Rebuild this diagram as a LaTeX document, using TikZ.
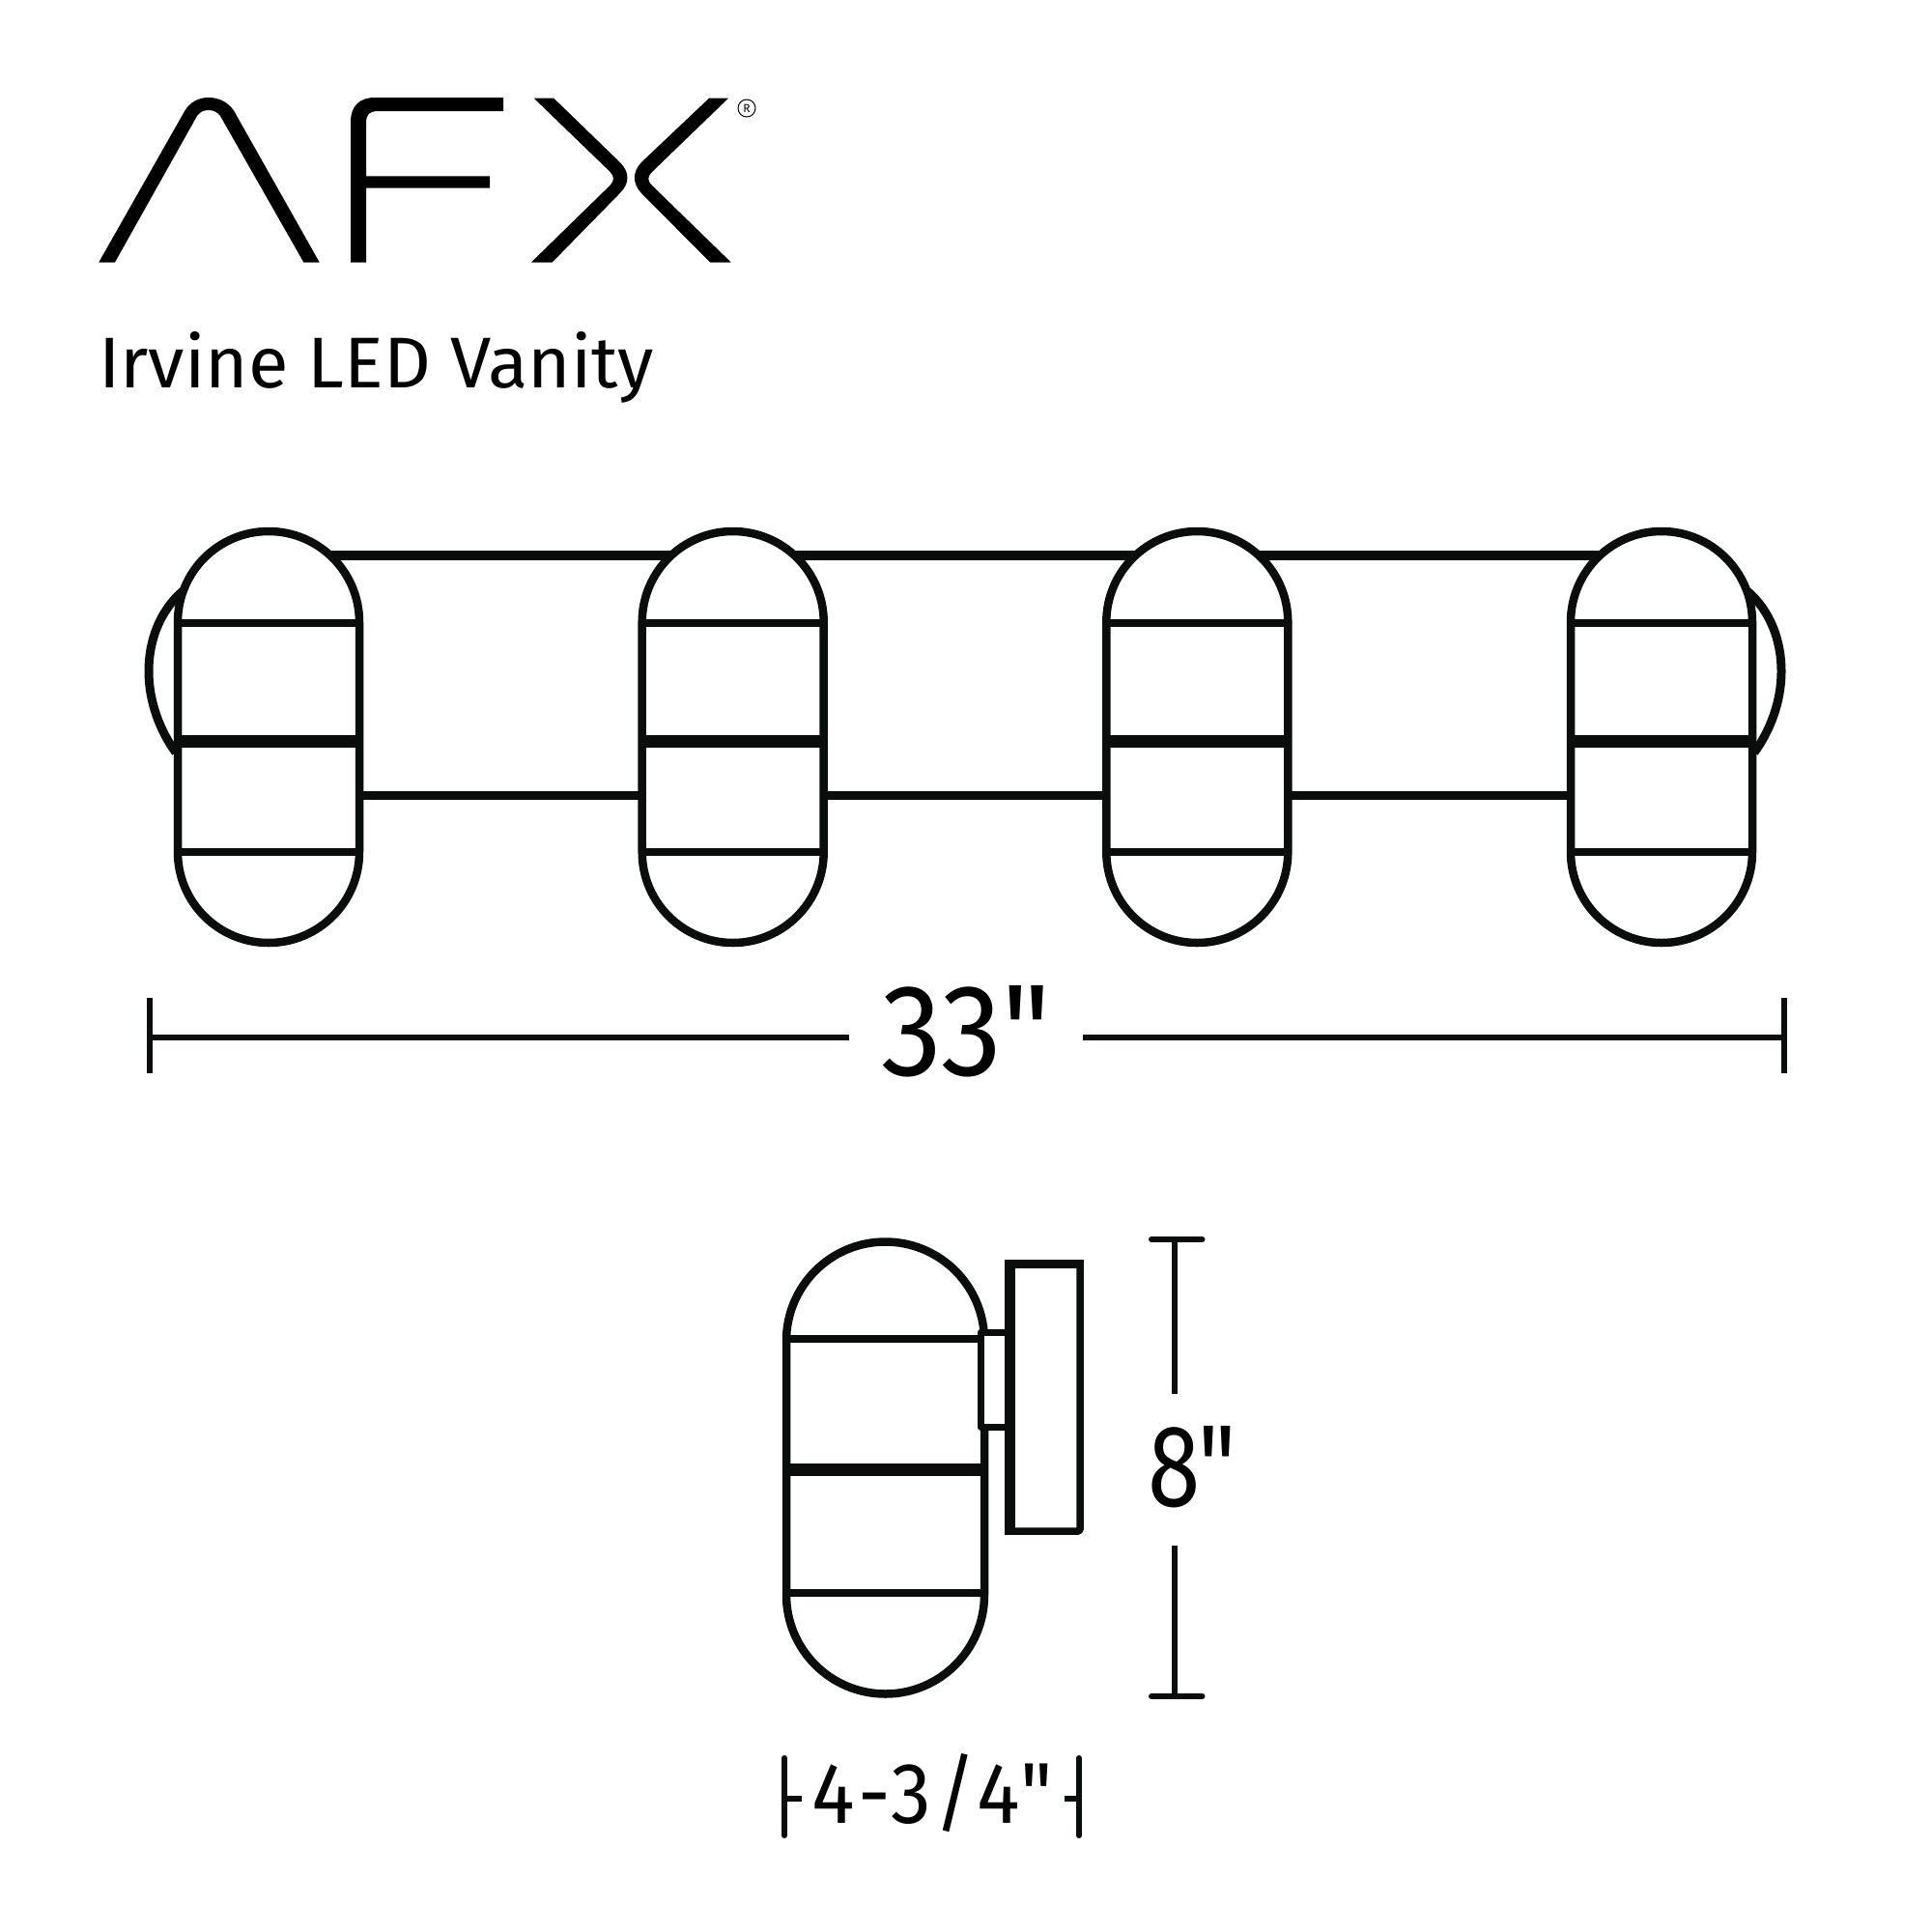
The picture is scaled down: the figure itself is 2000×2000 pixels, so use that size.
\documentclass[tikz,border=0pt]{standalone}
\usepackage{fontspec}
\usepackage{graphicx}
\newfontfamily\din{Fira Sans}
\definecolor{ink}{HTML}{0B0D0D}
\tikzset{
  ln/.style={draw=ink,line width=#1,line cap=butt},
  ln/.default=8pt,
  logo/.style={fill=black,draw=none},
  txt/.style={inner sep=0pt,outer sep=0pt,text=black,anchor=base west,font=\din},
}
\begin{document}
\begin{tikzpicture}[x=1pt,y=-1pt]
\path[use as bounding box,fill=white] (0,0) rectangle (2000,2000);
% logo A
\path[logo] (102.3,271.5) -- (191.7,114) .. controls (197,106) and (205,101) .. (215.7,101)
  .. controls (227,101) and (236,106) .. (241.7,114) -- (330.7,271.5) -- (314.3,271.5) -- (228,120)
  .. controls (225,116) and (221,114) .. (215.7,114) .. controls (211,114) and (207,116) .. (204,120)
  -- (119,271.5) -- cycle;
% logo F
\path[logo] (363,271.5) -- (363,126) .. controls (363,110) and (372,101) .. (388,101) -- (521,101) -- (521,115)
  -- (390,115) .. controls (383,115) and (379,119) .. (379,126) -- (379,182.4) -- (507,182.4) -- (507,194.5)
  -- (379,194.5) -- (379,271.5) -- cycle;
% logo X
\path[logo] (573.3,101.7) -- (641.7,168) .. controls (652,178) and (652,190) .. (641.7,200) -- (571.7,271.5) -- (550,271.5)
  -- (631.7,191.7) .. controls (636,187) and (636,183) .. (631.7,178) -- (552.7,101.7) -- cycle;
\path[logo] (734,101.7) -- (664,168) .. controls (654.5,178) and (654.5,190) .. (664,200) -- (735,271.5) -- (756.7,271.5)
  -- (675,192) .. controls (670,187) and (670,183) .. (675,178) -- (754,101.7) -- cycle;
\node[circle,draw=black,line width=1pt,minimum size=18pt,inner sep=0pt,font=\din\fontsize{12}{12}\selectfont] (reg) at (773,112) {R};
\node[txt] (title) at (102,401) {\resizebox{575pt}{58pt}{Irvine LED Vanity}};
% front view
\draw[ln=10.7pt] (278,575) -- (1720,575);
\draw[ln=8.5pt] (278,823.5) -- (1720,823.5);
\draw[ln=9pt] (189,612) .. controls (166,632) and (154,662) .. (154,695) .. controls (154,727) and (166,757) .. (182,779);
\draw[ln=9pt] (1809,612) .. controls (1832,632) and (1844,662) .. (1844,695) .. controls (1844,727) and (1832,757) .. (1816,779);
\foreach \c in {278,758.7,1239.3,1720}{
  \draw[ln=8.5pt,fill=white] (\c-94,644) arc[start angle=180,end angle=360,radius=94] -- (\c+94,882) arc[start angle=0,end angle=180,radius=94] -- cycle;
  \draw[ln=8pt] (\c-94,645) -- (\c+94,645);
  \draw[ln=13pt] (\c-94,767) -- (\c+94,767);
  \draw[ln=8pt] (\c-94,882) -- (\c+94,882);
}
% 33 dimension
\coordinate (l1) at (155,1074); \coordinate (l2) at (879,1074);
\coordinate (r1) at (1121,1074); \coordinate (r2) at (1847,1074);
\draw[ln=5.5pt] (l1) -- (l2);
\draw[ln=5.5pt] (r1) -- (r2);
\draw[ln=5.5pt] (155,1033) -- (155,1111);
\draw[ln=5.5pt] (1847,1033) -- (1847,1111);
\node[txt] (dimA) at (912,1113) {\resizebox{176pt}{93pt}{33"}};
% side view
\draw[ln=7.5pt,line join=round,rounded corners=1.5pt] (1118,1309) rectangle (1045.5,1585);
\draw[ln=10.7pt] (1045.5,1304) -- (1045.5,1589);
\draw[ln=9.5pt] (1041,1308.5) -- (1122,1308.5);
\draw[ln=8.5pt] (814,1388) arc[start angle=180,end angle=355,radius=102.5];
\draw[ln=8.5pt] (814,1388) -- (814,1651) arc[start angle=180,end angle=0,radius=102.5] -- (1019,1477);
\draw[ln=7pt,line join=round] (1040,1379) -- (1015,1379) -- (1015,1477) -- (1040,1477);
\draw[ln=8pt] (814,1386) -- (1015,1386);
\draw[ln=13pt] (811,1521) -- (1019,1521);
\draw[ln=8pt] (814,1649) -- (1019,1649);
% 8 dimension
\draw[ln=6pt,line cap=round] (1192,1283) -- (1244.5,1283);
\draw[ln=6pt,line cap=round] (1192,1756) -- (1244.5,1756);
\draw[ln=6pt] (1216,1283) -- (1216,1443);
\draw[ln=6pt] (1216,1600) -- (1216,1756);
\node[txt] (dimB) at (1188,1559) {\resizebox{92pt}{83pt}{8"}};
% 4-3/4 dimension
\draw[ln=6pt,line cap=round] (812,1820) -- (812,1900);
\draw[ln=6pt,line cap=round] (1117,1820) -- (1117,1900);
\draw[ln=6.5pt] (812,1862) -- (830,1862);
\draw[ln=6.5pt] (1102,1862) -- (1117,1862);
\node[txt] (dimC) at (840,1887) {\resizebox{250pt}{72pt}{\addfontfeature{LetterSpace=6}4-3/4"}};
\end{tikzpicture}
\end{document}
